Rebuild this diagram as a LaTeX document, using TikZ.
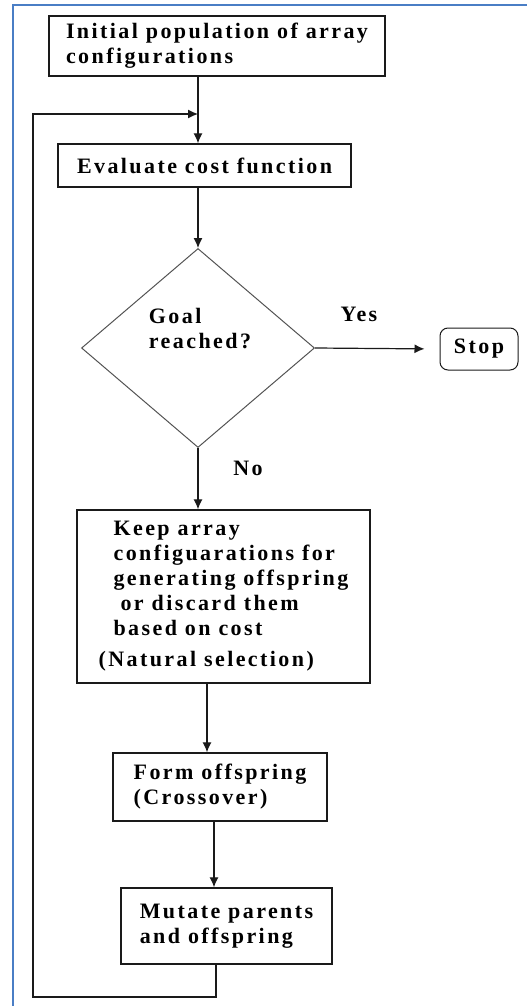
\documentclass[tikz,border=0pt]{standalone}
\usepackage{fontspec}
\setmainfont[LetterSpace=11]{Liberation Serif}
\usetikzlibrary{shapes.geometric,arrows.meta}

\begin{document}
\begin{tikzpicture}[x=1pt, y=-1pt,
    every node/.style={font=\bfseries\fontsize{22}{25}\selectfont},
    stepbox/.style={draw=borderColour, line width=1.3pt, align=left, inner sep=0pt},
    decision/.style={diamond, draw=borderColour!75, line width=1pt, minimum width=233pt, minimum height=199pt, inner sep=0pt},
    flow/.style={draw=borderColour, line width=1.2pt, -{Latex[length=10pt,width=9pt]}}]

    \definecolor{borderColour}{HTML}{1A1A1A}
    \definecolor{frameColour}{HTML}{4A7EC5}

    \useasboundingbox (0,0) rectangle (527,1006);

    % Draw page frame
    \draw[frameColour, line width=2pt] (12.5,1006) -- (12.5,5.5) -- (527,5.5);

    % Define coordinates for the connector lines
    \coordinate (trunk) at (198,0);
    \coordinate (mid) at (207,0);
    \coordinate (low) at (214,0);
    \coordinate (back) at (216,0);
    \coordinate (loopcorner) at (33,997);
    \coordinate (merge) at (198,114);

    % Draw steps
    \node[stepbox, minimum width=336pt, minimum height=60pt] (init) at (217,46) {Initial population of array\\configurations};
    \node[stepbox, minimum width=293pt, minimum height=43pt] (eval) at (204.5,165.5) {Evaluate cost function};
    \node[decision] (goal) at (198,348) {};
    \node[align=left] (goaltext) at (200,329) {Goal\\reached?};
    \node[draw=borderColour, line width=1pt, rounded corners=8pt, minimum width=78pt, minimum height=42pt, inner sep=0pt] (stop) at (479,349) {Stop};
    \node[stepbox, minimum width=293pt, minimum height=173pt] (keep) at (223.5,596.5) {\hspace*{15pt}Keep array\\\hspace*{15pt}configuarations for\\\hspace*{15pt}generating offspring\\\hspace*{22pt}or discard them\\\hspace*{15pt}based on cost\\[6pt](Natural selection)};
    \node[stepbox, minimum width=214pt, minimum height=68pt] (form) at (220,787) {Form offspring\\(Crossover)};
    \node[stepbox, minimum width=211pt, minimum height=76pt] (mutate) at (226.5,926) {Mutate parents\\and offspring};

    % Draw connectors
    \draw[flow] (init.south -| trunk) -- (eval.north -| trunk);
    \draw[flow] (eval.south -| trunk) -- (goal.north);
    \draw[flow, shorten >=15pt] (goal.east) -- (stop.west);
    \draw[flow] (goal.south) -- (keep.north -| goal);
    \draw[flow] (keep.south -| mid) -- (form.north -| mid);
    \draw[flow] (form.south -| low) -- (mutate.north -| low);
    \draw[flow] (mutate.south -| back) |- (loopcorner) |- (merge);

    % Label the branches
    \node (yes) at (359,314) {Yes};
    \node (no) at (248,468) {No};

\end{tikzpicture}
\end{document}
